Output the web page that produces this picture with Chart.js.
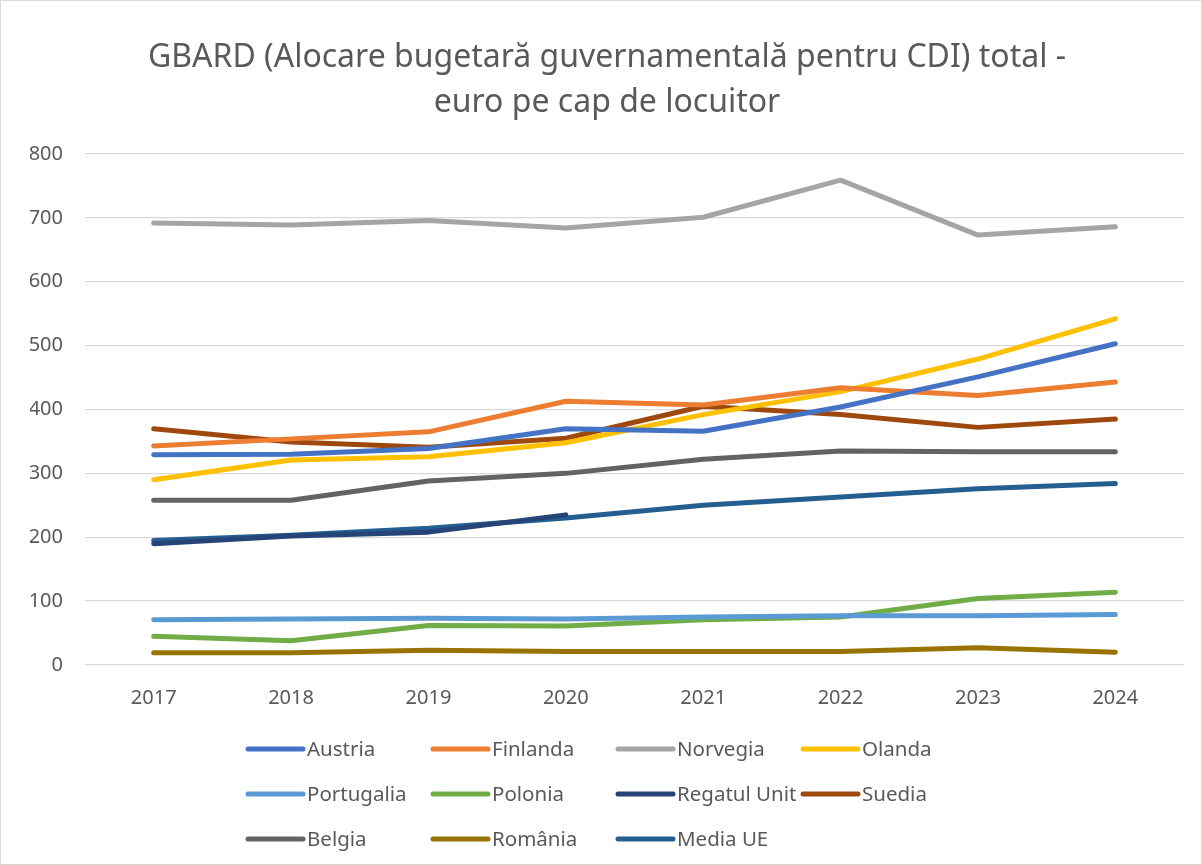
<!DOCTYPE html>
<html>
<head>
<meta charset="utf-8">
<script src="https://cdn.jsdelivr.net/npm/chart.js@4.4.1/dist/chart.umd.min.js"></script>
<style>
  html, body { margin: 0; padding: 0; background: #fff; }
  #wrap { width: 1202px; height: 865px; position: relative; }
  #wrap::after { content: ''; position: absolute; left: 0; top: 0; width: 1200px; height: 863px; border: 1px solid #d9d9d9; pointer-events: none; }
  canvas { display: block; }
</style>
</head>
<body>
<div id="wrap"><canvas id="gbardChart" width="1202" height="865"></canvas></div>
<script>
const years = ['2017', '2018', '2019', '2020', '2021', '2022', '2023', '2024'];

const austria    = [329, 330, 339, 370, 366, 404, 451, 503];
const finlanda   = [343, 354, 365, 413, 407, 434, 422, 443];
const norvegia   = [692, 689, 696, 684, 701, 759, 673, 686];
const olanda     = [290, 321, 326, 348, 392, 428, 479, 542];
const portugalia = [71, 72, 73, 72, 75, 77, 77, 79];
const polonia    = [45, 38, 62, 61, 71, 75, 104, 114];
const regatulUnit = [190, 202, 208, 235, null, null, null, null];
const suedia     = [370, 349, 341, 355, 405, 392, 372, 385];
const belgia     = [258, 258, 288, 300, 322, 335, 334, 334];
const romania    = [19, 19, 23, 21, 21, 21, 27, 20];
const mediaUE    = [195, 203, 214, 230, 250, 263, 276, 284];

const seriesNames  = ['Austria', 'Finlanda', 'Norvegia', 'Olanda', 'Portugalia', 'Polonia', 'Regatul Unit', 'Suedia', 'Belgia', 'România', 'Media UE'];
const seriesValues = [austria, finlanda, norvegia, olanda, portugalia, polonia, regatulUnit, suedia, belgia, romania, mediaUE];
const seriesColors = ['#4472C4', '#ED7D31', '#A5A5A5', '#FFC000', '#5B9BD5', '#70AD47', '#264478', '#9E480E', '#636363', '#997300', '#255E91'];

const titleLines = ['GBARD (Alocare bugetară guvernamentală pentru CDI) total -', 'euro pe cap de locuitor'];

const FONT = "'Noto Sans', 'Open Sans', sans-serif";
const TEXT = '#595959';

// Excel-style legend: 4 aligned columns, drawn under the plot
const gridLegend = {
  id: 'gridLegend',
  afterDraw(chart) {
    const ctx = chart.ctx;
    const colW = 185, rowH = 45, lineLen = 55;
    const startX = chart.width / 2 - 353;
    const startY = 749;
    ctx.save();
    ctx.font = '20.5px ' + FONT;
    ctx.textBaseline = 'middle';
    ctx.textAlign = 'left';
    chart.data.datasets.forEach((ds, i) => {
      const x = startX + (i % 4) * colW;
      const y = startY + Math.floor(i / 4) * rowH;
      ctx.strokeStyle = ds.borderColor;
      ctx.lineWidth = 5;
      ctx.lineCap = 'round';
      ctx.beginPath();
      ctx.moveTo(x, y);
      ctx.lineTo(x + lineLen, y);
      ctx.stroke();
      ctx.fillStyle = TEXT;
      ctx.fillText(ds.label, x + lineLen + 4, y + 1);
    });
    ctx.restore();
  }
};

const ctx = document.getElementById('gbardChart').getContext('2d');
new Chart(ctx, {
  type: 'line',
  data: {
    labels: years,
    datasets: seriesNames.map((name, i) => ({
      label: name,
      data: seriesValues[i],
      borderColor: seriesColors[i],
      backgroundColor: seriesColors[i],
      borderWidth: 5,
      pointRadius: 0,
      borderCapStyle: 'round',
      borderJoinStyle: 'round',
      tension: 0,
      spanGaps: false
    }))
  },
  options: {
    responsive: false,
    animation: false,
    layout: {
      padding: { top: 0, left: 30, right: 18, bottom: 150 }
    },
    plugins: {
      legend: { display: false },
      tooltip: { enabled: false },
      title: {
        display: true,
        text: titleLines,
        color: TEXT,
        font: { family: FONT, size: 32, weight: 'normal', lineHeight: 1.406 },
        padding: { top: 35, bottom: 29 }
      }
    },
    scales: {
      x: {
        offset: true,
        grid: { display: false },
        border: { display: false },
        ticks: { color: TEXT, font: { family: FONT, size: 20 }, padding: 13 },
        afterFit(scale) { scale.height = 50; }
      },
      y: {
        min: 0,
        max: 800,
        grid: { color: '#d9d9d9', lineWidth: 1.3, drawTicks: false },
        border: { display: false },
        ticks: { stepSize: 100, color: TEXT, font: { family: FONT, size: 20 }, padding: 22 },
        afterFit(scale) { scale.width = 55; }
      }
    }
  },
  plugins: [gridLegend]
});
</script>
</body>
</html>
